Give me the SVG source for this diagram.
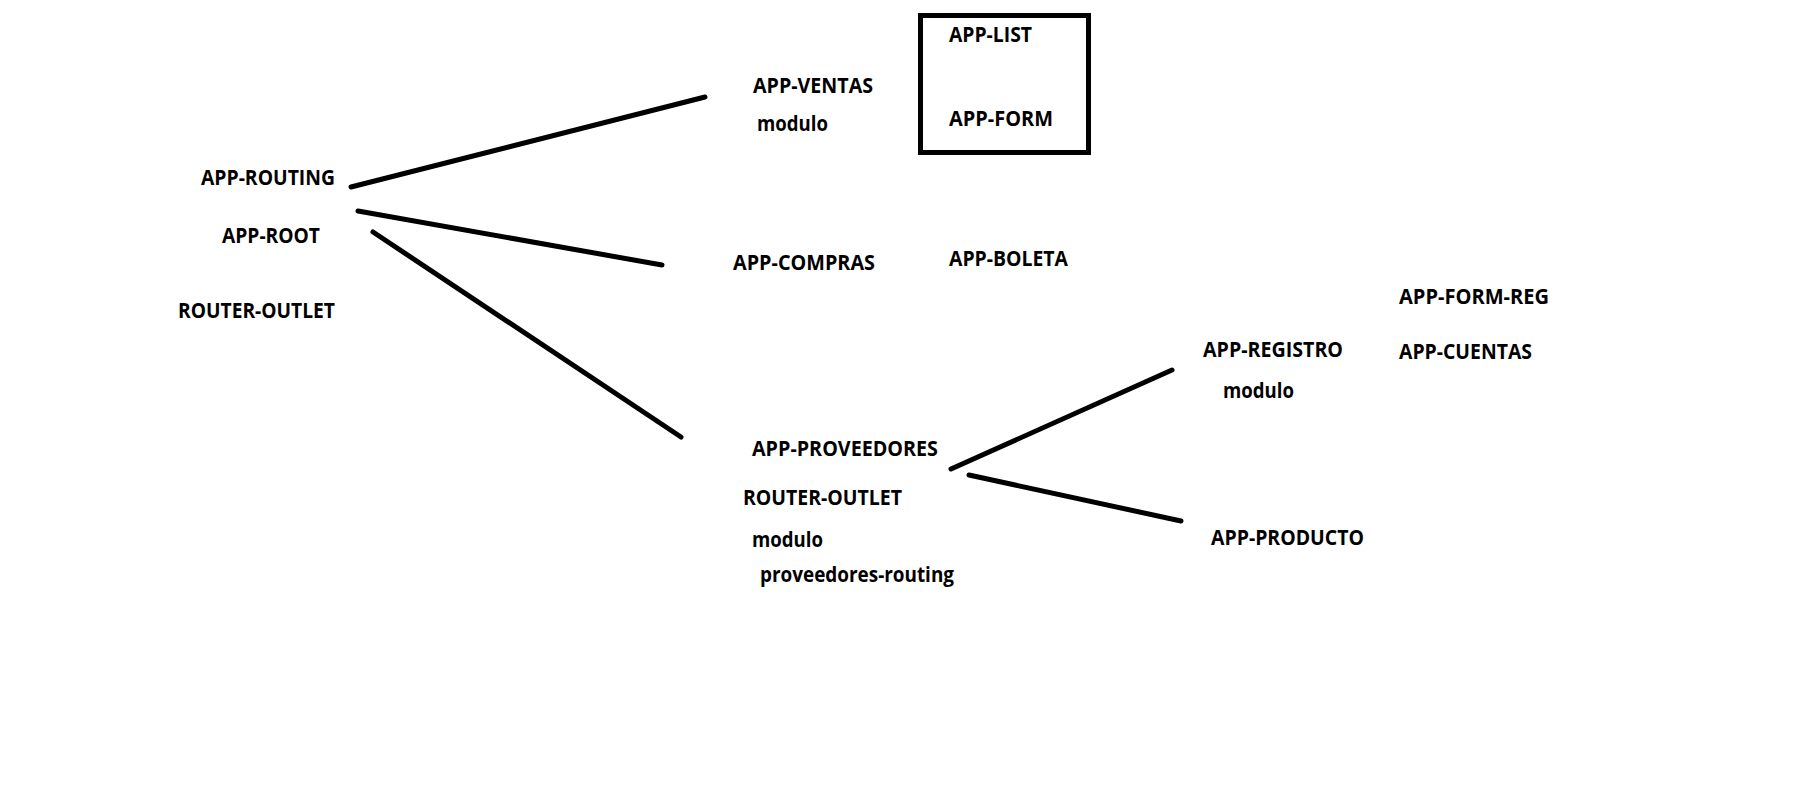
<svg xmlns="http://www.w3.org/2000/svg" width="1813" height="793" viewBox="0 0 1813 793">
<style>
text{font-family:"Open Sans","Noto Sans","DejaVu Sans",sans-serif;font-weight:700;font-size:21px;fill:#000}
.c line{stroke:#000;stroke-width:5;stroke-linecap:round}
</style>
<rect width="1813" height="793" fill="#fff"/>
<g id="connectors" class="c">
<line x1="351" y1="187" x2="705" y2="97"/>
<line x1="358" y1="211" x2="662" y2="265"/>
<line x1="373" y1="232" x2="681" y2="437"/>
<line x1="951" y1="469" x2="1172" y2="370"/>
<line x1="969" y1="475" x2="1181" y2="521"/>
</g>
<g id="app-root-group">
<text x="201" y="185" textLength="134" lengthAdjust="spacingAndGlyphs">APP-ROUTING</text>
<text x="222" y="243" textLength="98" lengthAdjust="spacingAndGlyphs">APP-ROOT</text>
<text x="178" y="318" textLength="157" lengthAdjust="spacingAndGlyphs">ROUTER-OUTLET</text>
</g>
<g id="ventas">
<text x="753" y="93" textLength="120" lengthAdjust="spacingAndGlyphs">APP-VENTAS</text>
<text x="757" y="131" textLength="71" lengthAdjust="spacingAndGlyphs">modulo</text>
</g>
<g id="ventas-box">
<rect x="920.5" y="15.5" width="168" height="137" fill="none" stroke="#000" stroke-width="5"/>
<text x="949" y="42" textLength="83" lengthAdjust="spacingAndGlyphs">APP-LIST</text>
<text x="949" y="126" textLength="104" lengthAdjust="spacingAndGlyphs">APP-FORM</text>
</g>
<g id="compras">
<text x="733" y="270" textLength="142" lengthAdjust="spacingAndGlyphs">APP-COMPRAS</text>
</g>
<g id="boleta">
<text x="949" y="266" textLength="119" lengthAdjust="spacingAndGlyphs">APP-BOLETA</text>
</g>
<g id="proveedores">
<text x="752" y="456" textLength="186" lengthAdjust="spacingAndGlyphs">APP-PROVEEDORES</text>
<text x="743" y="505" textLength="159" lengthAdjust="spacingAndGlyphs">ROUTER-OUTLET</text>
<text x="752" y="547" textLength="71" lengthAdjust="spacingAndGlyphs">modulo</text>
<text x="760" y="582" textLength="194" lengthAdjust="spacingAndGlyphs">proveedores-routing</text>
</g>
<g id="registro">
<text x="1203" y="357" textLength="140" lengthAdjust="spacingAndGlyphs">APP-REGISTRO</text>
<text x="1223" y="398" textLength="71" lengthAdjust="spacingAndGlyphs">modulo</text>
</g>
<g id="registro-children">
<text x="1399" y="304" textLength="150" lengthAdjust="spacingAndGlyphs">APP-FORM-REG</text>
<text x="1399" y="359" textLength="133" lengthAdjust="spacingAndGlyphs">APP-CUENTAS</text>
</g>
<g id="producto">
<text x="1211" y="545" textLength="153" lengthAdjust="spacingAndGlyphs">APP-PRODUCTO</text>
</g>
</svg>
